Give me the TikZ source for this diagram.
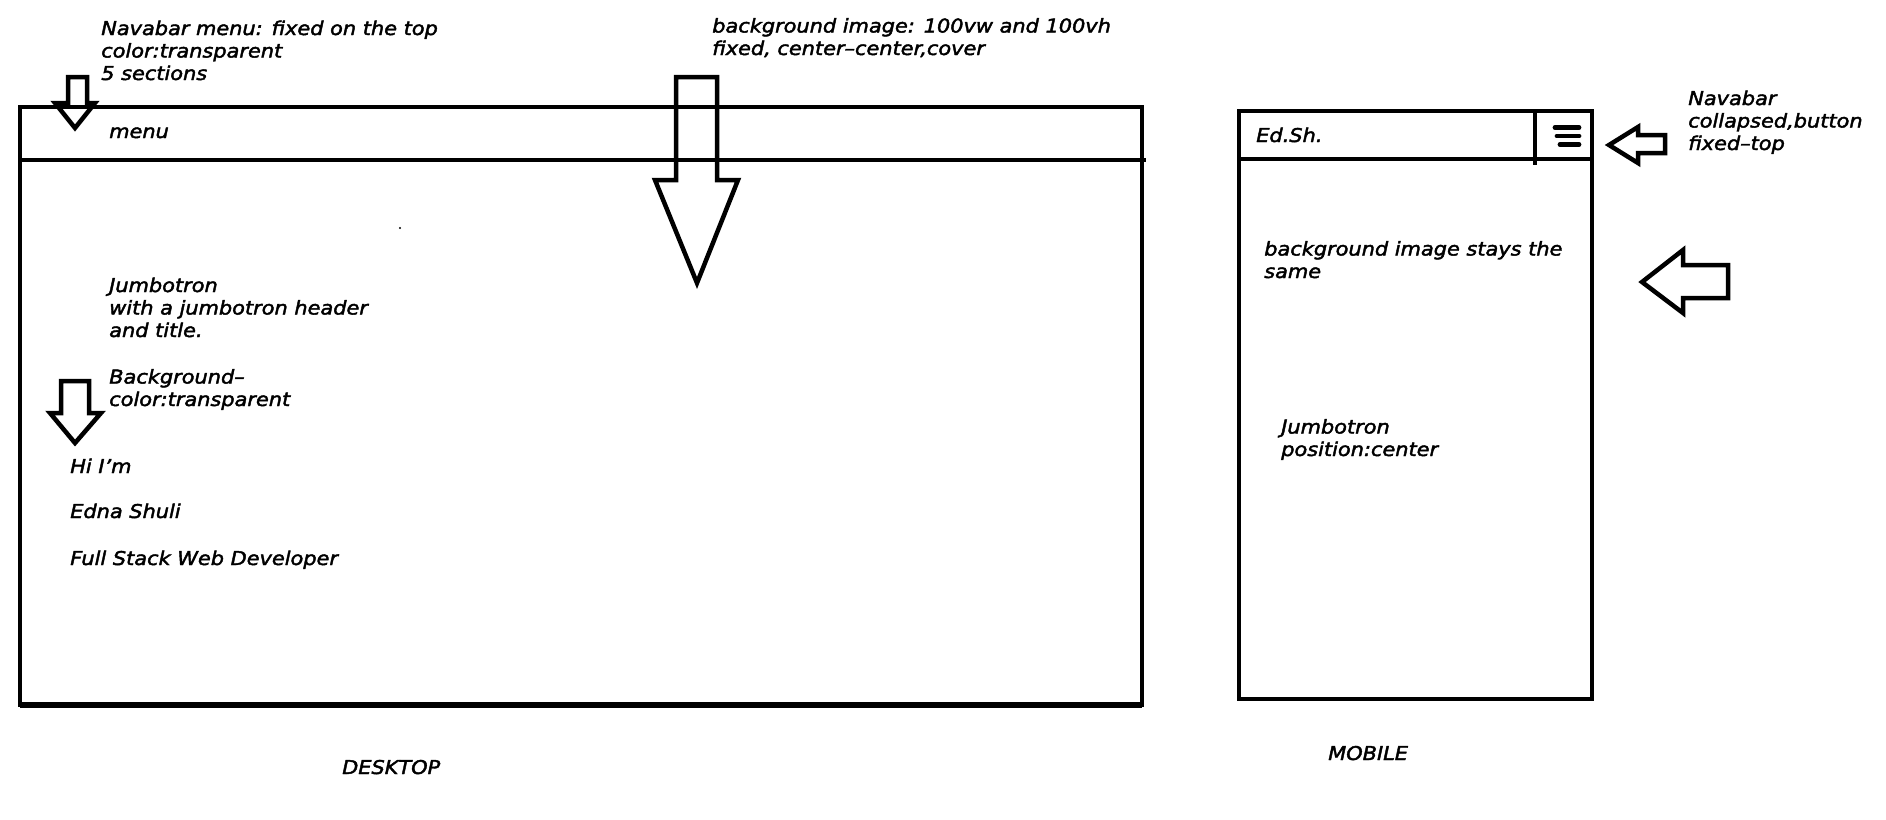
\documentclass[tikz,border=0pt]{standalone}
\usepackage{fontspec}
\setmainfont{DejaVu Sans}[FakeStretch=1.1,FakeBold=2.2]
\begin{document}
\begin{tikzpicture}[x=0.02cm,y=-0.02cm,line width=0.09cm,line join=miter,
  txt/.style={font=\itshape\fontsize{10.8}{12.8}\selectfont,anchor=base west,inner sep=0pt,align=left},
  blockarrow/.style={line width=0.09cm,line join=miter}]
\useasboundingbox (0,0) rectangle (1886,819);
% desktop frame
\draw (20,107) rectangle (1142,705);
\draw (20,160) -- (1146,160);
\draw[line width=0.12cm] (20,705) -- (1142,705);
% mobile frame
\draw (1239,111) rectangle (1592,699);
\draw (1239,159) -- (1592,159);
\draw (1535,111) -- (1535,165);
\draw[line width=0.095cm,line cap=round] (1555,127.5) -- (1579,127.5) (1557,136) -- (1579,136) (1560,144.5) -- (1579,144.5);
% block arrows
\draw[blockarrow] (68,103) -- (68,77) -- (87,77) -- (87,103) -- (95,103) -- (75,128) -- (55,103) -- cycle;
\draw[blockarrow] (676,180) -- (676,77) -- (717,77) -- (717,180) -- (738,180) -- (697,283) -- (655,180) -- cycle;
\draw[blockarrow] (61,413) -- (61,381) -- (89,381) -- (89,413) -- (101,413) -- (75,443) -- (50,413) -- cycle;
\draw[blockarrow] (1609,145) -- (1638,127) -- (1638,135) -- (1665,135) -- (1665,153) -- (1638,153) -- (1638,163) -- cycle;
\draw[blockarrow] (1642,282) -- (1683,250) -- (1683,265) -- (1728,265) -- (1728,298) -- (1683,298) -- (1683,313) -- cycle;
\fill (400,228) circle (1.2);
% texts (base anchor of a multi-line node = last line's baseline)
\node[txt] (navnote) at (99,80) {Navabar menu: fixed on the top\\color:transparent\\5 sections};
\node[txt] (bgnote) at (710,55) {background image: 100vw and 100vh\\fixed, center–center,cover};
\node[txt] (menu) at (107,138) {menu};
\node[txt] (jumbo) at (107,337) {Jumbotron\\with a jumbotron header\\and title.};
\node[txt] (bgcol) at (107,406) {Background–\\color:transparent};
\node[txt] (hi) at (68,473) {Hi I’m};
\node[txt] (edna) at (68,518) {Edna Shuli};
\node[txt] (fsw) at (68,565) {Full Stack Web Developer};
\node[txt] (desk) at (340,774) {DESKTOP};
\node[txt] (edsh) at (1254,142) {Ed.Sh.};
\node[txt] (navcol) at (1686,150) {Navabar\\collapsed,button\\fixed–top};
\node[txt] (bgsame) at (1262,278) {background image stays the\\same};
\node[txt] (mjumbo) at (1279,456) {Jumbotron\\position:center};
\node[txt] (mob) at (1326,760) {MOBILE};
\end{tikzpicture}
\end{document}
